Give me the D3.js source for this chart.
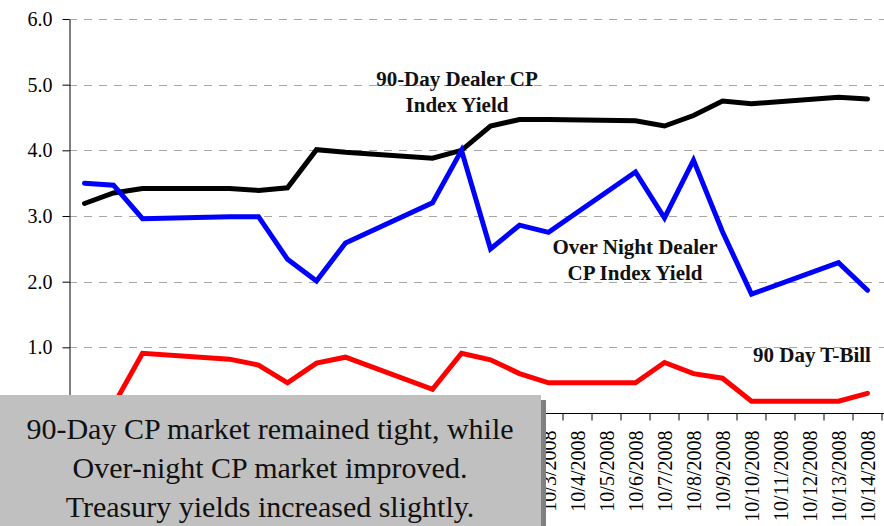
<!DOCTYPE html>
<html><head><meta charset="utf-8">
<script src="https://cdn.jsdelivr.net/npm/d3@7"></script>
<style>
body{margin:0;background:#fff;}
svg{display:block;}
svg text{font-family:"Liberation Serif","Times New Roman",Times,"DejaVu Serif",serif;}
</style></head>
<body><svg id="c" width="884" height="526"></svg>
<script>
// Category axis labels (every calendar day)
const axisDates = ["9/17/2008","9/18/2008","9/19/2008","9/20/2008","9/21/2008","9/22/2008","9/23/2008","9/24/2008","9/25/2008","9/26/2008","9/27/2008","9/28/2008","9/29/2008","9/30/2008","10/1/2008","10/2/2008","10/3/2008","10/4/2008","10/5/2008","10/6/2008","10/7/2008","10/8/2008","10/9/2008","10/10/2008","10/11/2008","10/12/2008","10/13/2008","10/14/2008"];
// Observation dates (business days)
const obsDates = ["9/17/2008","9/18/2008","9/19/2008","9/22/2008","9/23/2008","9/24/2008","9/25/2008","9/26/2008","9/29/2008","9/30/2008","10/1/2008","10/2/2008","10/3/2008","10/6/2008","10/7/2008","10/8/2008","10/9/2008","10/10/2008","10/13/2008","10/14/2008"];
const cp90 =      [3.19,3.35,3.42,3.42,3.39,3.43,4.01,3.97,3.88,4.00,4.37,4.47,4.47,4.45,4.37,4.53,4.75,4.71,4.81,4.78];
const cpOvernight=[3.50,3.47,2.96,2.99,2.99,2.34,2.01,2.59,3.20,4.00,2.50,2.86,2.75,3.67,2.97,3.85,2.76,1.81,2.29,1.87];
const tbill90 =   [0.15,0.12,0.91,0.82,0.73,0.46,0.76,0.85,0.36,0.91,0.81,0.60,0.46,0.46,0.77,0.60,0.53,0.18,0.18,0.30];
const yTicks = [0,1,2,3,4,5,6];
const seriesLabels = [
  {lines:["90-Day Dealer CP","Index Yield"], x:457, y:86},
  {lines:["Over Night Dealer","CP Index Yield"], x:635, y:254},
  {lines:["90 Day T-Bill"], x:812, y:362}
];
const noteLines = ["90-Day CP market remained tight, while","Over-night CP market improved.","Treasury yields increased slightly."];

const svg = d3.select("#c");
const mLeft = 69, mRight = 882, mTop = 19, mBottom = 413;
const x = d3.scaleBand().domain(axisDates).range([70, mRight]).padding(0);
const y = d3.scaleLinear().domain([0,6]).range([mBottom, mTop]);
const bw = x.bandwidth();
const cx = d => x(d) + bw/2;

// gridlines
svg.append("g").selectAll("line").data(yTicks.filter(d=>d>0)).join("line")
  .attr("x1", mLeft).attr("x2", 884)
  .attr("y1", d=>Math.round(y(d))+0.5).attr("y2", d=>Math.round(y(d))+0.5)
  .attr("stroke","#a6a6a6").attr("stroke-width",1).attr("stroke-dasharray","8,7");

// y axis
const ya = svg.append("g").attr("transform",`translate(${mLeft+0.5},0)`)
  .call(d3.axisLeft(y).tickValues(yTicks).tickFormat(d=>d===0?"":d3.format(".1f")(d)).tickSize(7).tickSizeOuter(0).tickPadding(10));
ya.attr("font-family",null);
ya.select(".domain").attr("stroke","#000");
ya.selectAll(".tick line").attr("stroke","#000");
ya.selectAll("text").attr("font-size",20).attr("fill","#000");

// x axis
const xa = svg.append("g").attr("transform",`translate(0,${mBottom+0.5})`)
  .call(d3.axisBottom(x).tickSize(7).tickSizeOuter(0).tickFormat(d=>d));
xa.attr("font-family",null);
xa.select(".domain").attr("d",`M${mLeft},0H884`).attr("stroke","#000");
xa.selectAll(".tick line").attr("x1",-bw/2).attr("x2",-bw/2).attr("stroke","#000");
xa.append("line").attr("x1",mRight).attr("x2",mRight).attr("y1",0).attr("y2",7).attr("stroke","#000");
xa.selectAll(".tick text")
  .attr("font-size",20).attr("fill","#000")
  .attr("text-anchor","end").attr("transform","rotate(-90)")
  .attr("x",-17).attr("y",0).attr("dy","0.35em");

// lines
const line = d3.line().x((d,i)=>cx(obsDates[i])).y(d=>y(d));
[[cp90,"#000000"],[cpOvernight,"#0000ff"],[tbill90,"#ff0000"]].forEach(([vals,col])=>{
  svg.append("path").datum(vals).attr("d",line).attr("fill","none")
    .attr("stroke",col).attr("stroke-width",5).attr("stroke-linejoin","miter").attr("stroke-linecap","round");
});

// series labels
seriesLabels.forEach(s=>{
  const t = svg.append("text").attr("x",s.x).attr("y",s.y).attr("text-anchor","middle")
    .attr("font-size",21).attr("font-weight","bold").attr("fill","#111");
  s.lines.forEach((l,i)=>t.append("tspan").attr("x",s.x).attr("dy",i?26:0).text(l));
});

// note box with shadow
svg.append("rect").attr("x",541).attr("y",400).attr("width",5).attr("height",126).attr("fill","#808080");
svg.append("rect").attr("x",0).attr("y",395).attr("width",541).attr("height",131).attr("fill","#c0c0c0");
const nt = svg.append("text").attr("text-anchor","middle").attr("font-size",30).attr("fill","#111");
noteLines.forEach((l,i)=>nt.append("tspan").attr("x",270).attr("y",439+i*39).text(l));
</script></body></html>
